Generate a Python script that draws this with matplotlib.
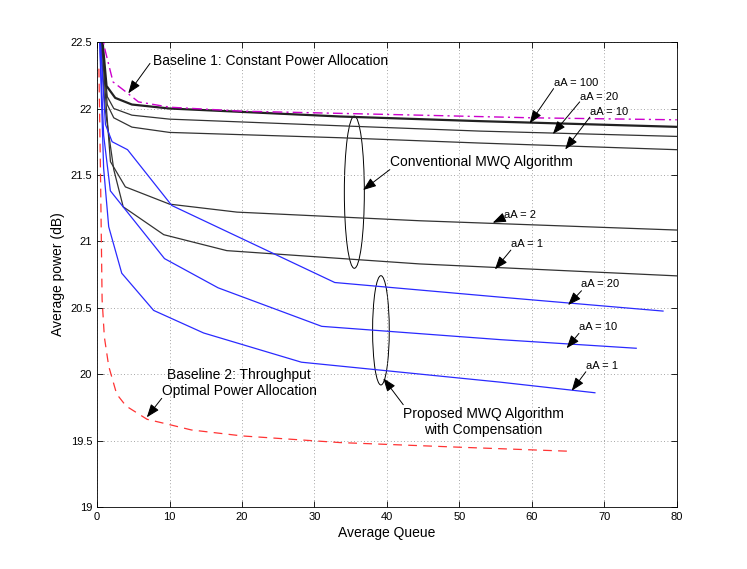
import matplotlib
matplotlib.use("Agg")
import matplotlib.pyplot as plt
from matplotlib.patches import Ellipse

# Baseline 1: constant power allocation (magenta dash-dot)
b1_x = [0.5, 1.1, 2.2, 4.1, 5.7, 10, 20, 44.5, 60, 80]
b1_y = [22.6, 22.44, 22.2, 22.12, 22.05, 22.01, 21.98, 21.95, 21.93, 21.915]

# Baseline 2: throughput optimal power allocation (red dashed)
b2_x = [0.25, 0.46, 0.69, 1.0, 1.6, 2.7, 4.0, 6.9, 10, 13, 20, 33.5, 50, 65]
b2_y = [22.3, 21.54, 20.56, 20.28, 20.06, 19.85, 19.76, 19.66, 19.62, 19.58, 19.535, 19.485, 19.45, 19.42]

# Conventional MWQ algorithm (black)
conv100_x = [0.6, 1.3, 2.5, 4.8, 10, 33.5, 52.8, 80]
conv100_y = [22.6, 22.17, 22.08, 22.03, 22.0, 21.94, 21.905, 21.862]
conv20_x = [0.5, 1.4, 2.3, 4.8, 10, 33.5, 52.8, 80]
conv20_y = [22.6, 22.09, 22.0, 21.95, 21.92, 21.87, 21.83, 21.79]
conv10_x = [0.5, 1.4, 2.3, 4.8, 10, 33.5, 52.8, 80]
conv10_y = [22.6, 22.03, 21.93, 21.86, 21.82, 21.78, 21.74, 21.69]
conv2_x = [0.5, 1.15, 1.84, 3.9, 10, 19.3, 44.5, 80]
conv2_y = [22.6, 22.1, 21.6, 21.41, 21.28, 21.22, 21.155, 21.085]
conv1_x = [0.4, 1.1, 2.3, 3.6, 9.2, 17.9, 44.5, 80]
conv1_y = [22.6, 22.0, 21.54, 21.26, 21.05, 20.93, 20.83, 20.74]

# Proposed MWQ algorithm with compensation (blue)
prop20_x = [0.35, 1.15, 2.07, 4.2, 10.3, 32.8, 55.6, 78.1]
prop20_y = [22.6, 21.88, 21.75, 21.69, 21.27, 20.69, 20.58, 20.475]
prop10_x = [0.3, 0.9, 1.83, 9.3, 16.7, 31, 55.6, 74.4]
prop10_y = [22.6, 21.8, 21.38, 20.87, 20.65, 20.36, 20.26, 20.195]
prop1_x = [0.3, 0.9, 1.6, 3.4, 7.8, 14.7, 28.2, 55.6, 68.7]
prop1_y = [22.6, 21.55, 21.11, 20.76, 20.48, 20.31, 20.09, 19.94, 19.86]

x_ticks = list(range(0, 81, 10))
y_ticks = [19, 19.5, 20, 20.5, 21, 21.5, 22, 22.5]
y_tick_labels = ["19", "19.5", "20", "20.5", "21", "21.5", "22", "22.5"]

plt.rcParams.update({
    "font.family": ["Liberation Sans", "DejaVu Sans"],
    "font.size": 10,
})

fig = plt.figure(figsize=(7.47, 5.69), dpi=100)
ax = fig.add_axes([0.13, 0.109, 0.776, 0.817])

ax.plot(conv10_x, conv10_y, color="#333333", lw=0.9)
ax.plot(conv20_x, conv20_y, color="#333333", lw=0.9)
ax.plot(conv2_x, conv2_y, color="#333333", lw=0.9)
ax.plot(conv1_x, conv1_y, color="#333333", lw=0.9)
ax.plot(conv100_x, conv100_y, color="#222222", lw=1.6)
ax.plot(prop20_x, prop20_y, color="#2a2aff", lw=0.9)
ax.plot(prop10_x, prop10_y, color="#2a2aff", lw=0.9)
ax.plot(prop1_x, prop1_y, color="#2a2aff", lw=0.9)
ax.plot(b1_x, b1_y, color="#cc00cc", lw=1.0, linestyle=(0, (7, 3, 1.5, 3)))
ax.plot(b2_x, b2_y, color="#ff3333", lw=0.9, dashes=(7, 5))

ax.set_xlim(0, 80)
ax.set_ylim(19, 22.5)
ax.set_xticks(x_ticks)
ax.set_yticks(y_ticks)
ax.set_yticklabels(y_tick_labels)
ax.tick_params(direction="in", top=True, right=True, length=4, width=0.6,
               labelsize=8)
for s in ax.spines.values():
    s.set_linewidth(0.6)
ax.grid(True, linestyle=(0, (1, 3)), color="#888888", linewidth=0.6)
ax.set_xlabel("Average Queue", labelpad=3)
ax.set_ylabel("Average power (dB)")

arrow_kw = dict(arrowstyle="-|>,head_length=0.8,head_width=0.3", color="black",
                lw=0.7, mutation_scale=10, shrinkA=0, shrinkB=0)

def note(text, tail, head, pos, ha="left", size=10):
    ax.annotate("", xy=head, xytext=tail, arrowprops=arrow_kw)
    ax.text(pos[0], pos[1], text, ha=ha, va="center", linespacing=1.2,
            fontsize=size)

note("Baseline 1: Constant Power Allocation", (7.3, 22.34), (4.3, 22.114), (7.7, 22.36))
note("aA = 100", (63.0, 22.15), (59.7, 21.888), (63.0, 22.19), size=8)
note("aA = 20", (66.6, 22.05), (62.9, 21.808), (66.6, 22.088), size=8)
note("aA = 10", (68.0, 21.935), (64.6, 21.692), (68.0, 21.975), size=8)
note("Conventional MWQ Algorithm", (40.4, 21.54), (36.7, 21.386), (40.4, 21.6))
note("aA = 2", (56.0, 21.175), (54.6, 21.14), (56.2, 21.2), size=8)
note("aA = 1", (57.1, 20.934), (54.9, 20.789), (57.1, 20.977), size=8)
note("aA = 20", (66.85, 20.628), (65.0, 20.52), (66.85, 20.676), size=8)
note("aA = 10", (66.5, 20.307), (64.8, 20.195), (66.5, 20.357), size=8)
note("aA = 1", (67.45, 20.018), (65.5, 19.875), (67.45, 20.064), size=8)
note("Baseline 2: Throughput\nOptimal Power Allocation", (8.92, 19.818), (6.86, 19.675), (19.6, 19.933), ha="center")
note("Proposed MWQ Algorithm\nwith Compensation", (42.25, 19.77), (39.5, 19.969), (53.3, 19.642), ha="center")

ax.add_patch(Ellipse((35.5, 21.37), 2.76, 1.146, fill=False, color="black", lw=0.7))
ax.add_patch(Ellipse((39.17, 20.33), 2.3, 0.823, fill=False, color="black", lw=0.7))

fig.savefig("out.png", dpi=100)
